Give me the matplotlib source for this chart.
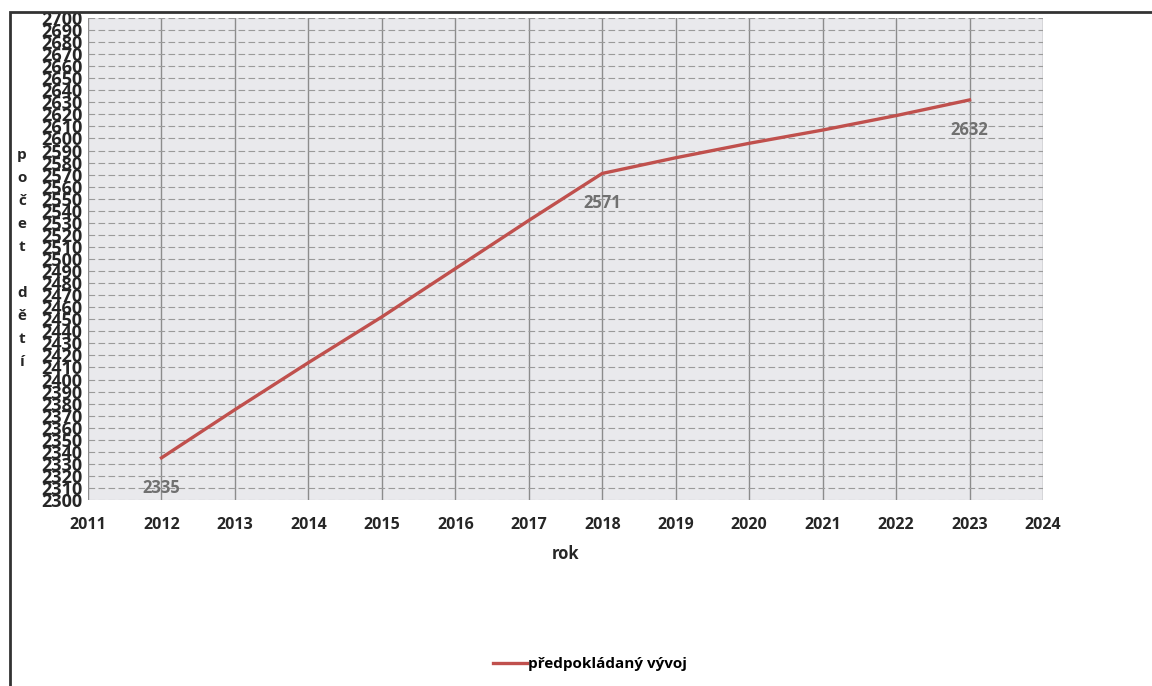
import matplotlib.pyplot as plt
from matplotlib.patches import Rectangle

# data
years = [2012, 2013, 2014, 2015, 2016, 2017, 2018, 2019, 2020, 2021, 2022, 2023]
children = [2335, 2375, 2414, 2452, 2492, 2532, 2571, 2584, 2596, 2607, 2619, 2632]
labelled_years = [2012, 2018, 2023]
series_name = 'předpokládaný vývoj'
ylabel_letters = ['p', 'o', 'č', 'e', 't', '', 'd', 'ě', 't', 'í']

plt.rcParams['font.family'] = ['Open Sans', 'DejaVu Sans']
narrow = ['Liberation Sans Narrow', 'Open Sans', 'DejaVu Sans']

fig = plt.figure(figsize=(11.52, 6.86), dpi=100)
ax = fig.add_axes([0.0764, 0.2711, 0.829, 0.7027])

ax.set_facecolor('#e9e9ec')
ax.plot(years, children, color='#c0504d', linewidth=2.4, zorder=3, label=series_name)

for yr, val in zip(years, children):
    if yr in labelled_years:
        ax.annotate(str(val), (yr, val), xytext=(0, -15), textcoords='offset points',
                    ha='center', va='top', fontsize=12, fontweight='bold', color='#707070')

ax.set_xlim(2011, 2024)
ax.set_ylim(2300, 2700)
ax.set_xticks(range(2011, 2025))
ax.set_yticks(range(2300, 2701, 10))
ax.tick_params(axis='both', length=0, colors='#262626')
for lbl in ax.get_xticklabels():
    lbl.set_fontweight('bold')
    lbl.set_fontsize(11.5)
for lbl in ax.get_yticklabels():
    lbl.set_fontweight('bold')
    lbl.set_fontsize(13)
    lbl.set_family(narrow)
ax.tick_params(axis='x', pad=12)
ax.tick_params(axis='y', pad=4)
ax.set_xlabel('rok', fontsize=12, fontweight='bold', color='#262626', labelpad=9)

ax.grid(True, axis='y', color='#9a9a9a', linewidth=0.8, linestyle=(0, (6, 3)))
ax.grid(True, axis='x', color='#8c8c8c', linewidth=1.0)
for s in ax.spines.values():
    s.set_visible(False)

# stacked vertical y label
for i, ch in enumerate(ylabel_letters):
    fig.text(0.019, 0.774 - i * 0.0335, ch, ha='center', va='center',
             fontsize=11, fontweight='bold', color='#262626')

ax.legend(loc='center', bbox_to_anchor=(0.526, -0.34), frameon=False,
          handlelength=2.2, handletextpad=0.1,
          prop={'weight': 'bold', 'size': 11})

# outer frame of the scanned chart
fig.patches.append(Rectangle((0.009, -0.01), 1.2, 0.993, transform=fig.transFigure,
                             fill=False, edgecolor='#333333', linewidth=2.0))

fig.savefig('out.png', dpi=100)
